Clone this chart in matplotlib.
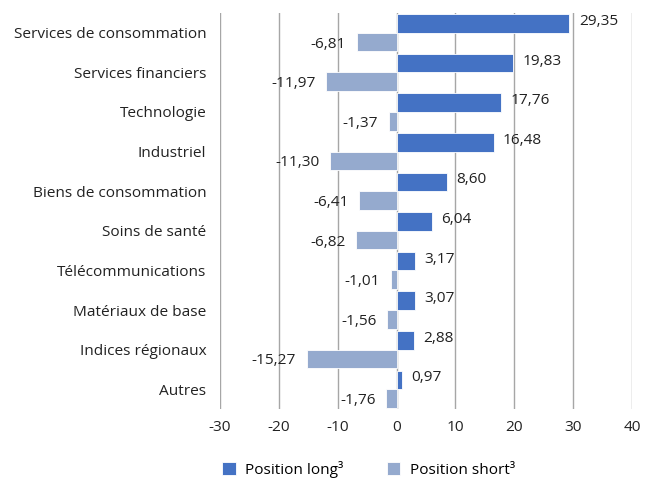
import numpy as np
import matplotlib.pyplot as plt

plt.rcParams['font.family'] = ['Open Sans', 'DejaVu Sans']

# secteurs et positions (en %)
categories = ["Services de consommation", "Services financiers", "Technologie",
              "Industriel", "Biens de consommation", "Soins de santé",
              "Télécommunications", "Matériaux de base", "Indices régionaux", "Autres"]
long_pos = [29.35, 19.83, 17.76, 16.48, 8.60, 6.04, 3.17, 3.07, 2.88, 0.97]
short_pos = [-6.81, -11.97, -1.37, -11.30, -6.41, -6.82, -1.01, -1.56, -15.27, -1.76]
xticks = [-30, -20, -10, 0, 10, 20, 30, 40]

c_long = '#4472C4'
c_short = '#95AACE'
fs = 11.1

fig = plt.figure(figsize=(6.46, 4.79), dpi=100)
ax = fig.add_axes([0.3406, 0.146, 0.6378, 0.827])

y = np.arange(len(categories))
h = 0.47
ax.barh(y - h / 2, long_pos, height=h, color=c_long, edgecolor='white', linewidth=0.6,
        label='Position long³', zorder=3)
ax.barh(y + h / 2, short_pos, height=h, color=c_short, edgecolor='white', linewidth=0.6,
        label='Position short³', zorder=3)

def fmt(v):
    return f"{v:.2f}".replace('.', ',')

for i in range(len(categories)):
    ax.text(long_pos[i] + 1.6, y[i] - h / 2 - 0.05, fmt(long_pos[i]), va='center', ha='left',
            fontsize=fs, color='#222222')
    ax.text(short_pos[i] - 1.8, y[i] + h / 2 + 0.05, fmt(short_pos[i]), va='center', ha='right',
            fontsize=fs, color='#222222')

ax.set_xlim(-30, 40)
ax.set_ylim(len(categories) - 0.5, -0.5)
ax.set_xticks(xticks)
ax.set_xticklabels([str(t) for t in xticks], fontsize=fs, color='#222222')
ax.set_yticks(y)
ax.set_yticklabels(categories, fontsize=fs, color='#222222')
ax.tick_params(axis='y', length=0, pad=10)
ax.tick_params(axis='x', length=0, pad=8)
ax.xaxis.grid(True, color='#A6A6A6', linewidth=1.0, zorder=0)
for s in ax.spines.values():
    s.set_visible(False)

ax.legend(loc='upper center', bbox_to_anchor=(0.36, -0.095), ncol=2, frameon=False,
          fontsize=fs, handlelength=0.9, handleheight=0.9, columnspacing=2.8,
          handletextpad=0.6)

fig.savefig('out.png', dpi=100)
